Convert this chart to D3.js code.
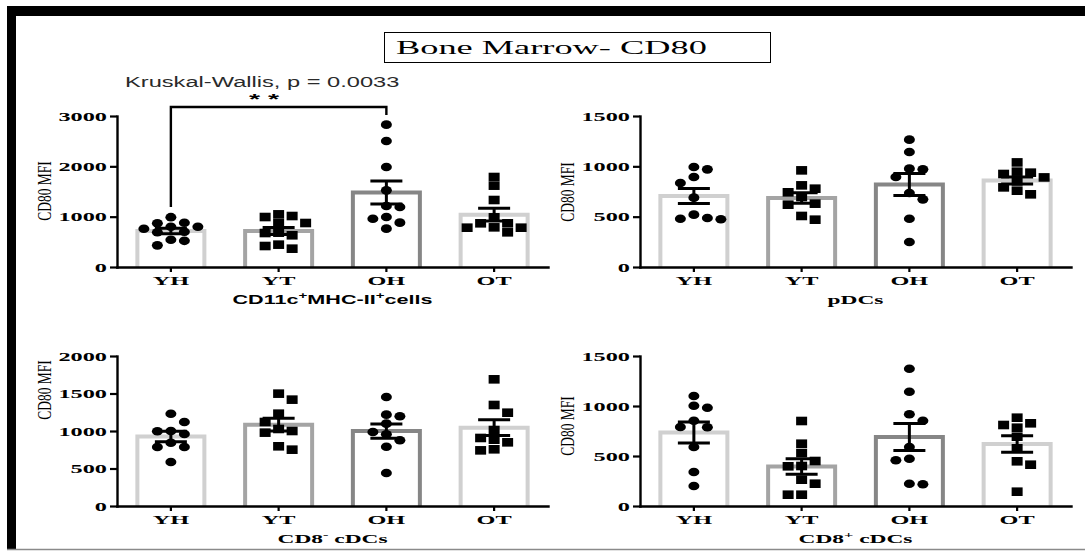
<!DOCTYPE html>
<html>
<head>
<meta charset="utf-8">
<script src="https://cdn.jsdelivr.net/npm/d3@7"></script>
<style>
  html, body { margin: 0; padding: 0; background: #ffffff; }
  svg { display: block; }
</style>
</head>
<body>
<svg id="chart" width="1085" height="553"></svg>
<script>
// ---- data ---------------------------------------------------------------
const groups = ["YH", "YT", "OH", "OT"];
const groupShapes = ["circle", "square", "circle", "square"];
const groupOutline = ["#d0d0d0", "#a4a4a4", "#868686", "#d0d0d0"];

const figureTitle = "Bone Marrow- CD80";
const statText = "Kruskal-Wallis, p = 0.0033";
const yLabel = "CD80 MFI";

// CD11c+MHC-II+ cells
const cd11cPoints = [
  [990, 880, 870, 800, 800, 760, 700, 690, 540, 520, 430],
  [1046, 1013, 993, 874, 874, 682, 675, 630, 444, 417, 364],
  [2828, 2503, 1987, 1523, 1212, 1192, 993, 960, 881, 762],
  [1788, 1616, 1331, 987, 868, 868, 788, 781, 781, 689]
];
const cd11cMean = [715, 715, 1480, 1040];
const cd11cSem = [55, 70, 228, 125];
const cd11cTicks = [0, 1000, 2000, 3000];
const cd11cTitle = [["CD11c", ""], ["+", "sup"], ["MHC-II", ""], ["+", "sup"], ["cells", ""]];

// pDCs
const pdcPoints = [
  [993, 970, 894, 834, 689, 520, 487, 480, 474],
  [960, 811, 778, 742, 695, 629, 619, 507, 470],
  [1265, 1142, 977, 970, 894, 735, 672, 480, 248],
  [1039, 947, 937, 924, 890, 850, 791, 758, 722]
];
const pdcMean = [705, 685, 820, 860];
const pdcSem = [75, 52, 110, 35];
const pdcTicks = [0, 500, 1000, 1500];
const pdcTitle = [["pDCs", ""]];

// CD8- cDCs
const cd8negPoints = [
  [1231, 1120, 1000, 996, 960, 844, 787, 787, 587],
  [1498, 1418, 1231, 1120, 1027, 1000, 978, 796, 751],
  [1453, 1218, 1196, 1098, 987, 956, 876, 791, 440],
  [1689, 1347, 1244, 1013, 907, 884, 849, 756, 742]
];
const cd8negMean = [928, 1085, 1000, 1045];
const cd8negSem = [70, 85, 95, 105];
const cd8negTicks = [0, 500, 1000, 1500, 2000];
const cd8negTitle = [["CD8", ""], ["-", "sup"], [" cDCs", ""]];

// CD8+ cDCs
const cd8posPoints = [
  [1100, 1003, 983, 853, 790, 787, 590, 340, 200],
  [850, 623, 530, 450, 400, 397, 263, 223, 113, 113],
  [1373, 1143, 917, 853, 590, 473, 457, 223, 217],
  [883, 827, 810, 783, 693, 577, 447, 413, 143]
];
const cd8posMean = [735, 395, 690, 620];
const cd8posSem = [105, 78, 135, 82];
const cd8posTicks = [0, 500, 1000, 1500];
const cd8posTitle = [["CD8", ""], ["+", "sup"], [" cDCs", ""]];

// significance bracket (first panel)
const sigPair = ["YH", "OH"];
const sigLabel = "* *";
const sigLevel = 3180;
const sigLegEnds = [1190, 3020];

// ---- layout -------------------------------------------------------------
const SERIF = "'Liberation Serif', 'Times New Roman', serif";
const SANS = "'Liberation Sans', Arial, sans-serif";
const SX = 1.8;            // horizontal text stretch of the panel lettering

const panels = [
  { points: cd11cPoints, mean: cd11cMean, sem: cd11cSem, ticks: cd11cTicks, title: cd11cTitle, titleFont: SANS, titleSize: 12,
    x0: 117, x1: 548, top: 116, bottom: 267, labelY: 191 },
  { points: pdcPoints, mean: pdcMean, sem: pdcSem, ticks: pdcTicks, title: pdcTitle, titleFont: SERIF, titleSize: 13,
    x0: 640, x1: 1071, top: 116, bottom: 267, labelY: 192 },
  { points: cd8negPoints, mean: cd8negMean, sem: cd8negSem, ticks: cd8negTicks, title: cd8negTitle, titleFont: SERIF, titleSize: 13,
    x0: 117, x1: 548, top: 356, bottom: 506, labelY: 390 },
  { points: cd8posPoints, mean: cd8posMean, sem: cd8posSem, ticks: cd8posTicks, title: cd8posTitle, titleFont: SERIF, titleSize: 13,
    x0: 640, x1: 1071, top: 356, bottom: 506, labelY: 426 }
];

const svg = d3.select("#chart");

// page frame
svg.append("rect").attr("x", 0).attr("y", 0).attr("width", 1085).attr("height", 553).attr("fill", "#fff");
svg.append("rect").attr("x", 7).attr("y", 6).attr("width", 1078).attr("height", 10).attr("fill", "#000");
svg.append("rect").attr("x", 7).attr("y", 6).attr("width", 9).attr("height", 544).attr("fill", "#000");
svg.append("line").attr("x1", 7).attr("x2", 1085).attr("y1", 549.5).attr("y2", 549.5)
  .attr("stroke", "#8a8a8a").attr("stroke-width", 1.5);

// figure title box
svg.append("rect").attr("x", 384.5).attr("y", 32.5).attr("width", 386).attr("height", 30)
  .attr("fill", "#fff").attr("stroke", "#000").attr("stroke-width", 1);
svg.append("text").attr("transform", "translate(396,53.5) scale(2.02,1)")
  .attr("font-family", SERIF).attr("font-size", 18).attr("fill", "#000").text(figureTitle);

// overall test annotation
svg.append("text").attr("transform", "translate(125,87) scale(1.69,1)")
  .attr("font-family", SANS).attr("font-size", 14).attr("fill", "#2a2a2a").text(statText);

// spread points of one group sideways so the markers do not overlap
function dodge(vals, y, step, w, h) {
  const order = vals.map((v, i) => i).sort((a, b) => vals[b] - vals[a]);
  const placed = [];
  const off = new Array(vals.length).fill(0);
  let prefer = 1;
  for (const i of order) {
    const py = y(vals[i]);
    let done = false;
    for (let k = 0; k < 12 && !done; k++) {
      const cands = k === 0 ? [0] : [prefer * k * step, -prefer * k * step];
      for (const dx of cands) {
        const free = placed.every(p => Math.abs(p.x - dx) >= w || Math.abs(p.y - py) >= h);
        if (free) {
          off[i] = dx;
          placed.push({ x: dx, y: py });
          if (dx !== 0) prefer = dx < 0 ? 1 : -1;
          done = true;
          break;
        }
      }
    }
  }
  return off;
}

function stretchedText(parent, x, y, parts, font, size, sx) {
  const t = parent.append("text")
    .attr("transform", `translate(${x},${y}) scale(${sx},1)`)
    .attr("text-anchor", "middle")
    .attr("font-family", font).attr("font-weight", "bold")
    .attr("font-size", size).attr("fill", "#000");
  let shifted = false;
  parts.forEach(([s, kind]) => {
    const sp = t.append("tspan").text(s);
    if (kind === "sup") {
      sp.attr("font-size", size * 0.7).attr("dy", -size * 0.42);
      shifted = true;
    } else if (shifted) {
      sp.attr("dy", size * 0.42);
      shifted = false;
    }
  });
  return t;
}

panels.forEach((p, pi) => {
  const g = svg.append("g");
  const yMax = p.ticks[p.ticks.length - 1];
  const y = d3.scaleLinear().domain([0, yMax]).range([p.bottom, p.top]);
  const x = d3.scaleBand().domain(groups).range([p.x0, p.x1]).paddingInner(0).paddingOuter(0);
  const cx = gname => x(gname) + x.bandwidth() / 2;
  const barHalf = 33.5;

  // bars (open at the base)
  groups.forEach((gname, gi) => {
    const c = cx(gname), top = y(p.mean[gi]);
    g.append("path")
      .attr("d", `M${c - barHalf},${p.bottom} V${top} H${c + barHalf} V${p.bottom}`)
      .attr("fill", "#fff").attr("stroke", groupOutline[gi]).attr("stroke-width", 4);
  });

  // axes
  const yAxis = d3.axisLeft(y).tickValues(p.ticks).tickSize(7).tickSizeOuter(0).tickFormat(d3.format("d"));
  const ya = g.append("g").attr("transform", `translate(${p.x0},0)`).call(yAxis);
  ya.selectAll("text")
    .attr("x", 0).attr("transform", `translate(-10,0) scale(${SX},1)`)
    .attr("font-family", SERIF).attr("font-weight", "bold").attr("font-size", 13.5).attr("fill", "#000");

  const xAxis = d3.axisBottom(x).tickSize(5).tickSizeOuter(0);
  const xa = g.append("g").attr("transform", `translate(0,${p.bottom})`).call(xAxis);
  xa.selectAll("text")
    .attr("y", 18.5).attr("dy", null).attr("transform", `scale(${SX},1)`)
    .attr("font-family", SERIF).attr("font-weight", "bold").attr("font-size", 13.5).attr("fill", "#000");

  [ya, xa].forEach(a => {
    a.select(".domain").attr("stroke", "#000").attr("stroke-width", 2.4).attr("stroke-linecap", "square");
    a.selectAll(".tick line").attr("stroke", "#000").attr("stroke-width", 2.2);
  });

  // y label
  g.append("text")
    .attr("transform", `translate(${p.x0 - 72},${p.labelY}) scale(1.4,1) rotate(-90)`)
    .attr("text-anchor", "middle").attr("dominant-baseline", "central")
    .attr("font-family", SERIF).attr("font-size", 13.5).attr("fill", "#000")
    .text(yLabel);

  // x title
  stretchedText(g, (p.x0 + p.x1) / 2, p.bottom + 37, p.title, p.titleFont, p.titleSize, SX);

  // individual values
  groups.forEach((gname, gi) => {
    const vals = p.points[gi];
    const off = dodge(vals, y, 13.5, 11, 8.5);
    const c = cx(gname);
    vals.forEach((v, i) => {
      const px = c + off[i], py = y(v);
      if (groupShapes[gi] === "circle") {
        g.append("ellipse").attr("cx", px).attr("cy", py).attr("rx", 5.5).attr("ry", 4.3).attr("fill", "#000");
      } else {
        g.append("rect").attr("x", px - 5.5).attr("y", py - 4.3).attr("width", 11).attr("height", 8.6).attr("fill", "#000");
      }
    });
  });

  // mean ± SEM
  groups.forEach((gname, gi) => {
    const c = cx(gname);
    const hi = y(p.mean[gi] + p.sem[gi]), lo = y(p.mean[gi] - p.sem[gi]);
    const e = g.append("g").attr("stroke", "#000").attr("stroke-width", 3);
    e.append("line").attr("x1", c).attr("x2", c).attr("y1", hi).attr("y2", lo);
    e.append("line").attr("x1", c - 16).attr("x2", c + 16).attr("y1", hi).attr("y2", hi);
    e.append("line").attr("x1", c - 16).attr("x2", c + 16).attr("y1", lo).attr("y2", lo);
  });

  // pairwise comparison bracket
  if (pi === 0) {
    const xa0 = cx(sigPair[0]), xb0 = cx(sigPair[1]);
    g.append("path")
      .attr("d", `M${xa0},${y(sigLegEnds[0])} V${y(sigLevel)} H${xb0} V${y(sigLegEnds[1])}`)
      .attr("fill", "none").attr("stroke", "#000").attr("stroke-width", 2.4);
    g.append("text").attr("transform", "translate(264,104) scale(1.9,1)")
      .attr("text-anchor", "middle").attr("font-family", SANS).attr("font-weight", "bold")
      .attr("font-size", 15).attr("fill", "#000").text(sigLabel);
  }
});
</script>
</body>
</html>
